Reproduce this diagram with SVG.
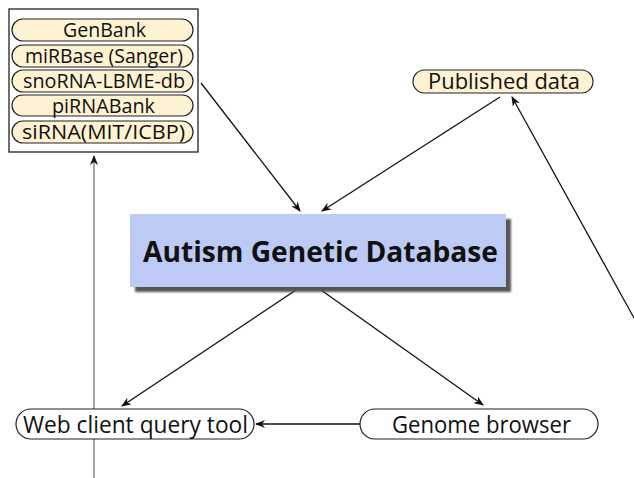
<svg xmlns="http://www.w3.org/2000/svg" width="634" height="478" viewBox="0 0 634 478">
<defs>
<marker id="ah" markerWidth="10" markerHeight="8" refX="9" refY="4" orient="auto" markerUnits="userSpaceOnUse">
<path d="M0,0 L10,4 L0,8 L3,4 Z" fill="#111"/>
</marker>
<filter id="sh" x="-5%" y="-10%" width="115%" height="130%">
<feGaussianBlur stdDeviation="1"/>
</filter>
</defs>
<style>
.src{fill:#fdf3d2;stroke:#222;stroke-width:1.2}
.pill{fill:#fff;stroke:#222;stroke-width:1.2}
.t{font-family:"Open Sans","Liberation Sans",sans-serif;fill:#111;text-anchor:middle}
.s{font-size:20px}
.c{stroke:#111;stroke-width:1.3;fill:none}
</style>
<rect width="634" height="478" fill="#fff"/>
<g id="connectors">
<line class="c" x1="94" y1="478" x2="94" y2="156" style="stroke:#777" marker-end="url(#ah)"/>
<line class="c" x1="201" y1="83" x2="300" y2="211" marker-end="url(#ah)"/>
<line class="c" x1="500" y1="97" x2="322" y2="211" marker-end="url(#ah)"/>
<line class="c" x1="634" y1="318" x2="512" y2="97" marker-end="url(#ah)"/>
<line class="c" x1="296" y1="290" x2="122" y2="406" marker-end="url(#ah)"/>
<line class="c" x1="321" y1="290" x2="483" y2="405" marker-end="url(#ah)"/>
<line class="c" x1="360" y1="424" x2="256" y2="424" marker-end="url(#ah)"/>
</g>
<g id="sources">
<rect x="9" y="9" width="189" height="143" fill="#fff" stroke="#222" stroke-width="1.3"/>
<g id="genbank"><rect class="src" x="12" y="19" width="181" height="22" rx="11"/><text class="t s" x="104.5" y="37" textLength="83" lengthAdjust="spacingAndGlyphs">GenBank</text></g>
<g id="mirbase"><rect class="src" x="12" y="45" width="181" height="22" rx="11"/><text class="t s" x="104" y="63" textLength="158" lengthAdjust="spacingAndGlyphs">miRBase (Sanger)</text></g>
<g id="snorna"><rect class="src" x="12" y="70" width="181" height="22" rx="11"/><text class="t s" x="104" y="88" textLength="162" lengthAdjust="spacingAndGlyphs">snoRNA-LBME-db</text></g>
<g id="pirnabank"><rect class="src" x="12" y="95" width="181" height="21" rx="10.5"/><text class="t s" x="103.5" y="112.5" textLength="103" lengthAdjust="spacingAndGlyphs">piRNABank</text></g>
<g id="sirna"><rect class="src" x="12" y="121" width="181" height="22" rx="11"/><text class="t s" x="103.5" y="139" textLength="163" lengthAdjust="spacingAndGlyphs">siRNA(MIT/ICBP)</text></g>
</g>
<g id="published">
<rect class="src" x="413" y="70" width="180" height="23" rx="11.5"/>
<text class="t" x="504" y="89" font-size="21" textLength="152" lengthAdjust="spacingAndGlyphs">Published data</text>
</g>
<g id="agd">
<rect x="135" y="219" width="376" height="73" fill="#555" filter="url(#sh)"/>
<rect x="130" y="214" width="376" height="73" fill="#bccaf5"/>
<text x="320.5" y="262" font-family="'Open Sans','Liberation Sans',sans-serif" font-weight="bold" font-size="28" text-anchor="middle" fill="#111" textLength="355" lengthAdjust="spacingAndGlyphs">Autism Genetic Database</text>
</g>
<g id="webclient">
<rect class="pill" x="16" y="409" width="238" height="30" rx="15"/>
<text class="t" x="135.5" y="433" font-size="23" textLength="225" lengthAdjust="spacingAndGlyphs">Web client query tool</text>
</g>
<g id="genome">
<rect class="pill" x="360" y="409" width="238" height="30" rx="15"/>
<text class="t" x="481.5" y="433" font-size="23" textLength="179" lengthAdjust="spacingAndGlyphs">Genome browser</text>
</g>
</svg>
